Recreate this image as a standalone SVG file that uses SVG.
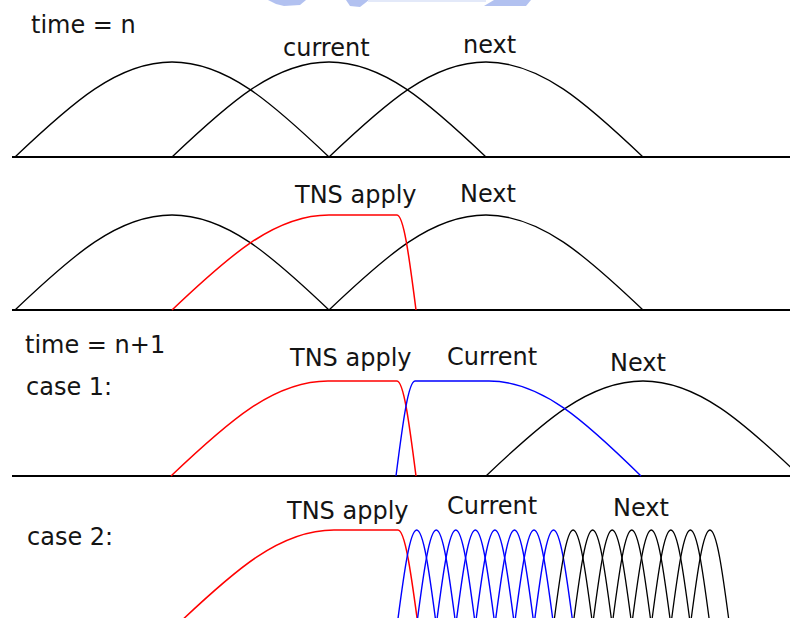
<svg xmlns="http://www.w3.org/2000/svg" xmlns:xlink="http://www.w3.org/1999/xlink" width="790" height="618" viewBox="0 0 790 618">
<style>
  text { font-family: "DejaVu Sans", Verdana, sans-serif; font-size: 24px; fill: #141414; }
  .base { stroke: #000; stroke-width: 2; fill: none; }
  .k { stroke: #000; stroke-width: 1.3; fill: none; }
  .r { stroke: #ff0000; stroke-width: 1.5; fill: none; }
  .b { stroke: #0000ff; stroke-width: 1.4; fill: none; }
  .wm { fill: #9fb2ec; opacity: 0.8; }
</style>
<defs>
  <path id="arch" d="M0,0 C57.15,-54.34 102.68,-95 157,-95 C211.32,-95 256.85,-54.34 314,0"/>
  <path id="small" d="M0,0 C7.12,-54.34 12.79,-95 19.55,-95 C26.31,-95 31.98,-54.34 39.1,0"/>
</defs>
<rect width="790" height="618" fill="#fff"/>
<g id="watermark">
  <polygon class="wm" points="268,0 306,0 300,5 284,6 276,4"/>
  <polygon class="wm" points="346,0 369,0 360,7 350,6"/>
  <polygon class="wm" points="484,6 494,0 531,0 526,6"/>
  <line x1="368" y1="1" x2="486" y2="1" stroke="#e3e9f9" stroke-width="2"/>
</g>
<g id="panel1">
  <line class="base" x1="12" y1="157" x2="790" y2="157"/>
  <use href="#arch" xlink:href="#arch" class="k" transform="translate(15,157)"/>
  <use href="#arch" xlink:href="#arch" class="k" transform="translate(172,157)"/>
  <use href="#arch" xlink:href="#arch" class="k" transform="translate(329,157)"/>
  <text x="31" y="33">time = n</text>
  <text x="283" y="56">current</text>
  <text x="463" y="53">next</text>
</g>
<g id="panel2">
  <line class="base" x1="12" y1="310" x2="790" y2="310"/>
  <use href="#arch" xlink:href="#arch" class="k" transform="translate(15,310)"/>
  <use href="#arch" xlink:href="#arch" class="k" transform="translate(329,310)"/>
  <path class="r" d="M172,310 C229.15,255.66 274.68,215 329,215 L397,215 C403.57,215 409.08,255.66 416,310"/>
  <text x="295" y="203">TNS apply</text>
  <text x="460" y="202">Next</text>
</g>
<g id="panel3">
  <line class="base" x1="12" y1="476" x2="790" y2="476"/>
  <use href="#arch" xlink:href="#arch" class="k" transform="translate(486,476)"/>
  <path class="r" d="M171,476 C228.15,421.66 273.68,381 328,381 L397,381 C403.57,381 409.08,421.66 416,476"/>
  <path class="b" d="M396,476 C402.92,421.66 408.43,381 415,381 L489,381 C541.59,381 585.67,421.66 641,476"/>
  <text x="25" y="353">time = n+1</text>
  <text x="26" y="395">case 1:</text>
  <text x="290" y="366">TNS apply</text>
  <text x="447" y="365">Current</text>
  <text x="610" y="371">Next</text>
</g>
<g id="panel4">
  <path class="r" d="M177,625 C234.15,570.66 279.68,530 334,530 L398,530 C404.92,530 410.72,570.66 418,625"/>
  <g class="b">
    <use href="#small" xlink:href="#small" transform="translate(397.15,625)"/>
    <use href="#small" xlink:href="#small" transform="translate(416.7,625)"/>
    <use href="#small" xlink:href="#small" transform="translate(436.25,625)"/>
    <use href="#small" xlink:href="#small" transform="translate(455.8,625)"/>
    <use href="#small" xlink:href="#small" transform="translate(475.35,625)"/>
    <use href="#small" xlink:href="#small" transform="translate(494.9,625)"/>
    <use href="#small" xlink:href="#small" transform="translate(514.45,625)"/>
    <use href="#small" xlink:href="#small" transform="translate(534,625)"/>
  </g>
  <g class="k">
    <use href="#small" xlink:href="#small" transform="translate(553.55,625)"/>
    <use href="#small" xlink:href="#small" transform="translate(573.1,625)"/>
    <use href="#small" xlink:href="#small" transform="translate(592.65,625)"/>
    <use href="#small" xlink:href="#small" transform="translate(612.2,625)"/>
    <use href="#small" xlink:href="#small" transform="translate(631.75,625)"/>
    <use href="#small" xlink:href="#small" transform="translate(651.3,625)"/>
    <use href="#small" xlink:href="#small" transform="translate(670.85,625)"/>
    <use href="#small" xlink:href="#small" transform="translate(690.4,625)"/>
  </g>
  <text x="27" y="545">case 2:</text>
  <text x="287" y="519">TNS apply</text>
  <text x="447" y="514">Current</text>
  <text x="613" y="516">Next</text>
</g>
</svg>
